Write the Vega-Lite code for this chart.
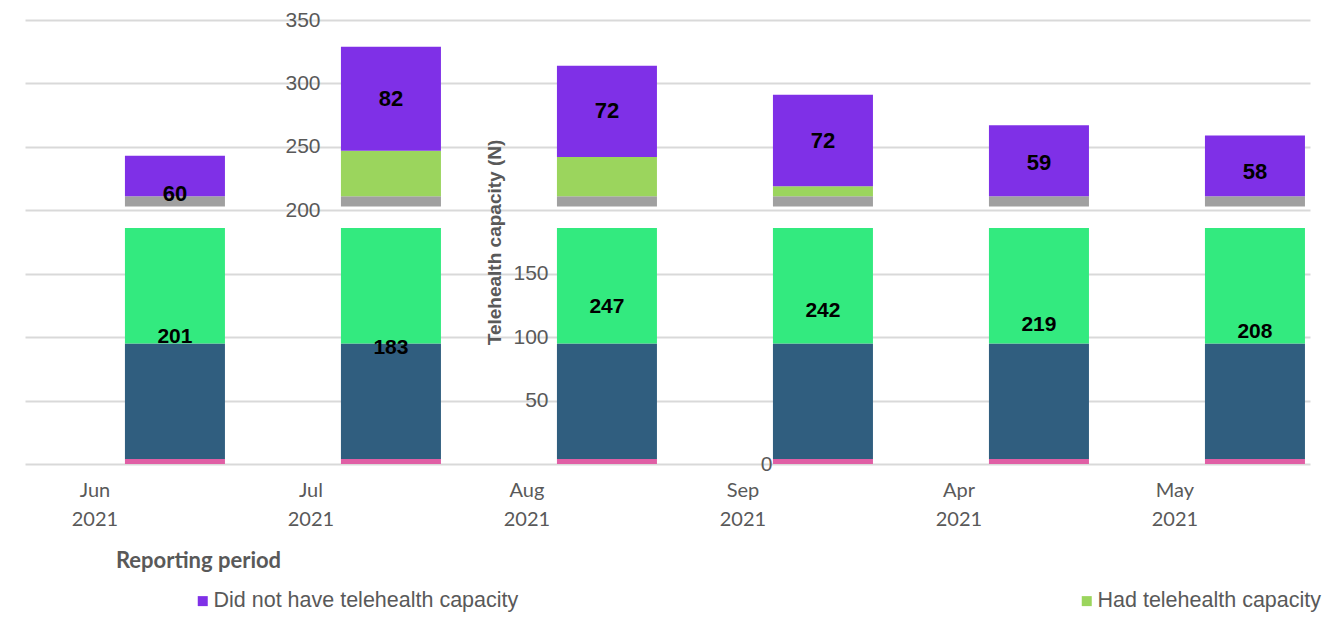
{
  "$schema": "https://vega.github.io/schema/vega-lite/v6.json",
  "width": 1285,
  "height": 444,
  "autosize": {"type": "none"},
  "padding": {"left": 25, "top": 20, "right": 18, "bottom": 176},
  "background": "white",
  "config": {"view": {"stroke": null}, "font": "Liberation Sans"},
  "datasets": {
    "segments": [
      {"month": "Jun 2021", "part": "Edge", "lo": 0, "hi": 4},
      {"month": "Jul 2021", "part": "Edge", "lo": 0, "hi": 4},
      {"month": "Aug 2021", "part": "Edge", "lo": 0, "hi": 4},
      {"month": "Sep 2021", "part": "Edge", "lo": 0, "hi": 4},
      {"month": "Apr 2021", "part": "Edge", "lo": 0, "hi": 4},
      {"month": "May 2021", "part": "Edge", "lo": 0, "hi": 4},
      {"month": "Jun 2021", "part": "Lower band", "lo": 4, "hi": 95},
      {"month": "Jul 2021", "part": "Lower band", "lo": 4, "hi": 95},
      {"month": "Aug 2021", "part": "Lower band", "lo": 4, "hi": 95},
      {"month": "Sep 2021", "part": "Lower band", "lo": 4, "hi": 95},
      {"month": "Apr 2021", "part": "Lower band", "lo": 4, "hi": 95},
      {"month": "May 2021", "part": "Lower band", "lo": 4, "hi": 95},
      {"month": "Jun 2021", "part": "Upper band", "lo": 95, "hi": 186},
      {"month": "Jul 2021", "part": "Upper band", "lo": 95, "hi": 186},
      {"month": "Aug 2021", "part": "Upper band", "lo": 95, "hi": 186},
      {"month": "Sep 2021", "part": "Upper band", "lo": 95, "hi": 186},
      {"month": "Apr 2021", "part": "Upper band", "lo": 95, "hi": 186},
      {"month": "May 2021", "part": "Upper band", "lo": 95, "hi": 186},
      {"month": "Jun 2021", "part": "Divider", "lo": 203, "hi": 211},
      {"month": "Jul 2021", "part": "Divider", "lo": 203, "hi": 211},
      {"month": "Aug 2021", "part": "Divider", "lo": 203, "hi": 211},
      {"month": "Sep 2021", "part": "Divider", "lo": 203, "hi": 211},
      {"month": "Apr 2021", "part": "Divider", "lo": 203, "hi": 211},
      {"month": "May 2021", "part": "Divider", "lo": 203, "hi": 211},
      {"month": "Jul 2021", "part": "Had telehealth capacity", "lo": 211, "hi": 247},
      {"month": "Aug 2021", "part": "Had telehealth capacity", "lo": 211, "hi": 242},
      {"month": "Sep 2021", "part": "Had telehealth capacity", "lo": 211, "hi": 219},
      {"month": "Jun 2021", "part": "Did not have telehealth capacity", "lo": 211, "hi": 243},
      {"month": "Jul 2021", "part": "Did not have telehealth capacity", "lo": 247, "hi": 329},
      {"month": "Aug 2021", "part": "Did not have telehealth capacity", "lo": 242, "hi": 314},
      {"month": "Sep 2021", "part": "Did not have telehealth capacity", "lo": 219, "hi": 291},
      {"month": "Apr 2021", "part": "Did not have telehealth capacity", "lo": 211, "hi": 267},
      {"month": "May 2021", "part": "Did not have telehealth capacity", "lo": 211, "hi": 259}
    ],
    "top": [
      {"month": "Jun 2021", "not": 60, "v": 183},
      {"month": "Jun 2021", "not": 60, "v": 243},
      {"month": "Jul 2021", "not": 82, "v": 247},
      {"month": "Jul 2021", "not": 82, "v": 329},
      {"month": "Aug 2021", "not": 72, "v": 242},
      {"month": "Aug 2021", "not": 72, "v": 314},
      {"month": "Sep 2021", "not": 72, "v": 219},
      {"month": "Sep 2021", "not": 72, "v": 291},
      {"month": "Apr 2021", "not": 59, "v": 208},
      {"month": "Apr 2021", "not": 59, "v": 267},
      {"month": "May 2021", "not": 58, "v": 201},
      {"month": "May 2021", "not": 58, "v": 259}
    ],
    "bottom": [
      {"month": "Jun 2021", "had": 201, "v": 0},
      {"month": "Jun 2021", "had": 201, "v": 201},
      {"month": "Jul 2021", "had": 183, "v": 0},
      {"month": "Jul 2021", "had": 183, "v": 183},
      {"month": "Aug 2021", "had": 247, "v": 0},
      {"month": "Aug 2021", "had": 247, "v": 247},
      {"month": "Sep 2021", "had": 242, "v": 0},
      {"month": "Sep 2021", "had": 242, "v": 242},
      {"month": "Apr 2021", "had": 219, "v": 0},
      {"month": "Apr 2021", "had": 219, "v": 219},
      {"month": "May 2021", "had": 208, "v": 0},
      {"month": "May 2021", "had": 208, "v": 208}
    ]
  },
  "encoding": {
    "x": {
      "field": "month",
      "type": "nominal",
      "sort": ["Jun 2021", "Jul 2021", "Aug 2021", "Sep 2021", "Apr 2021", "May 2021"],
      "scale": {
        "domain": ["Jun 2021", "Jul 2021", "Aug 2021", "Sep 2021", "Apr 2021", "May 2021"],
        "paddingInner": 0.537,
        "paddingOuter": 0.243,
        "align": 0.952
      },
      "axis": {
        "title": "Reporting period",
        "titleFont": "Lato",
        "titleFontSize": 22,
        "titleFontWeight": "bold",
        "titleColor": "#595959",
        "titleAnchor": "start",
        "titleX": 173,
        "titleY": 86,
        "titleAlign": "center",
        "titleBaseline": "top",
        "labelExpr": "split(datum.label, ' ')",
        "labelFont": "Lato",
        "labelFontSize": 20,
        "labelColor": "#595959",
        "labelLineHeight": 29,
        "labelOffset": -80,
        "labelPadding": 16,
        "labelAngle": 0,
        "ticks": false,
        "domain": false,
        "grid": false
      }
    }
  },
  "layer": [
    {
      "data": {"name": "segments"},
      "mark": {"type": "bar"},
      "encoding": {
        "y": {
          "field": "lo",
          "type": "quantitative",
          "scale": {"domain": [0, 350], "nice": false},
          "axis": {
            "orient": "left",
            "title": null,
            "values": [0, 50, 100, 150, 200, 250, 300, 350],
            "labelExpr": "datum.value >= 200 ? datum.label : ''",
            "offset": -303,
            "ticks": false,
            "domain": false,
            "labelPadding": 8,
            "labelFont": "Liberation Sans",
            "labelFontSize": 21,
            "labelColor": "#595959",
            "grid": true,
            "gridColor": "#D9D9D9",
            "gridWidth": 2
          }
        },
        "y2": {"field": "hi"},
        "color": {
          "field": "part",
          "type": "nominal",
          "scale": {
            "domain": ["Did not have telehealth capacity", "Had telehealth capacity", "Divider", "Upper band", "Lower band", "Edge"],
            "range": ["#7F30E7", "#9BD55D", "#A0A0A0", "#33EA7F", "#305E7F", "#E05FA5"]
          },
          "legend": {
            "values": ["Did not have telehealth capacity", "Had telehealth capacity"],
            "orient": "none",
            "legendX": 167,
            "legendY": 570,
            "padding": 0,
            "direction": "horizontal",
            "title": null,
            "symbolType": "square",
            "symbolSize": 100,
            "symbolStrokeWidth": 0,
            "labelFont": "Liberation Sans",
            "labelFontSize": 21.5,
            "labelColor": "#595959",
            "labelOffset": 0,
            "labelLimit": 0,
            "columnPadding": 557
          }
        }
      }
    },
    {
      "data": {"name": "top"},
      "mark": {"type": "text", "font": "Liberation Sans", "fontWeight": "bold", "fontSize": 22, "color": "#000000", "baseline": "middle"},
      "encoding": {
        "y": {
          "aggregate": "mean",
          "field": "v",
          "type": "quantitative",
          "scale": {"domain": [0, 350], "nice": false},
          "axis": {
            "orient": "left",
            "values": [50, 100, 150],
            "offset": -531,
            "title": "Telehealth capacity (N)",
            "titleFont": "Liberation Sans",
            "titleFontSize": 19,
            "titleFontWeight": "bold",
            "titleColor": "#595959",
            "titlePadding": 8,
            "grid": false,
            "ticks": false,
            "domain": false,
            "labelPadding": 8,
            "labelFont": "Liberation Sans",
            "labelFontSize": 21,
            "labelColor": "#595959"
          }
        },
        "text": {"field": "not", "type": "quantitative"}
      }
    },
    {
      "data": {"name": "bottom"},
      "mark": {"type": "text", "font": "Liberation Sans", "fontWeight": "bold", "fontSize": 21, "color": "#000000", "baseline": "middle"},
      "encoding": {
        "y": {
          "aggregate": "mean",
          "field": "v",
          "type": "quantitative",
          "scale": {"domain": [0, 350], "nice": false},
          "axis": {
            "orient": "left",
            "values": [0],
            "offset": -755,
            "title": null,
            "grid": false,
            "ticks": false,
            "domain": false,
            "labelPadding": 8,
            "labelFont": "Liberation Sans",
            "labelFontSize": 21,
            "labelColor": "#595959"
          }
        },
        "text": {"field": "had", "type": "quantitative"}
      }
    }
  ],
  "resolve": {"scale": {"y": "independent"}}
}
